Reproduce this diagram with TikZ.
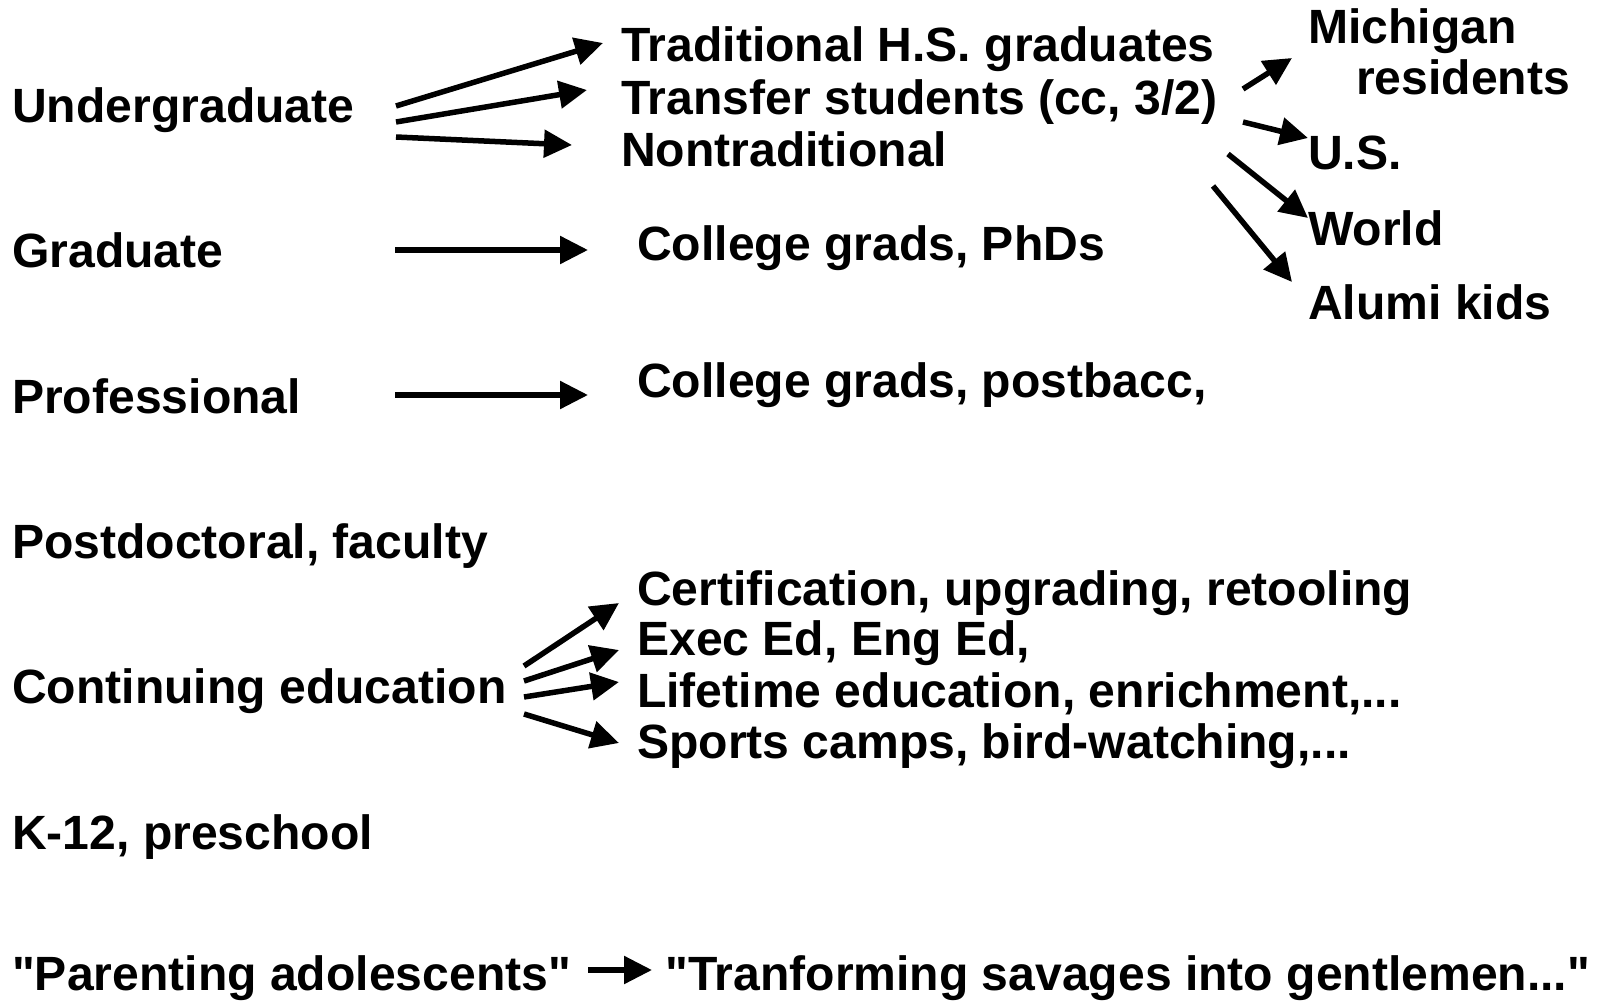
\documentclass[tikz,border=0pt]{standalone}
\usepackage{fontspec}
\setmainfont{Liberation Sans}
\usetikzlibrary{arrows.meta}
\tikzset{
  lbl/.style={anchor=base west, inner sep=0pt, font=\bfseries\fontsize{48.1}{57}\selectfont},
  arr/.style={line width=5.5pt, -{Triangle[length=28pt, width=27pt]}},
}
\begin{document}
\begin{tikzpicture}[x=1pt, y=-1pt]
  \useasboundingbox[fill=white] (0,0) rectangle (1598,1001);
  % left column
  \foreach \n/\y/\t in {ug/122/Undergraduate, grad/267/Graduate, prof/413/Professional,
      postdoc/558/{Postdoctoral, faculty}, cont/703/Continuing education,
      kid/849/{K-12, preschool}, parent/990/{\textquotedbl Parenting adolescents\textquotedbl}} {
    \node[lbl] (\n) at (12,\y) {\t};
  }
  % middle column
  \foreach \n/\x/\y/\t in {trad/621/61/Traditional H.S. graduates,
      transfer/621/114/{Transfer students (cc, 3/2)}, nontrad/621/166/Nontraditional,
      phd/637/260/{College grads, PhDs}, postbacc/637/397/{College grads, postbacc,},
      cert/637/605/{Certification, upgrading, retooling}, exec/637/655/{Exec Ed, Eng Ed,},
      life/637/707/{Lifetime education, enrichment,...}, sport/637/758/{Sports camps, bird-watching,...},
      savage/665/990/{\textquotedbl Tranforming savages into gentlemen...\textquotedbl}} {
    \node[lbl] (\n) at (\x,\y) {\t};
  }
  % right column
  \foreach \n/\x/\y/\t in {mich/1308/43/Michigan, res/1356/94/residents, us/1308/169/U.S.,
      world/1308/245/World, alumni/1308/319/Alumi kids} {
    \node[lbl] (\n) at (\x,\y) {\t};
  }
  % arrow ends
  \foreach \n/\x/\y in {ugA/396/106, ugB/396/122, ugC/396/137, tradE/603/43, transE/587/90, nonE/572/145,
      gradS/395/250, gradE/588/250, profS/395/395, profE/588/395,
      contA/524/666, contB/524/681, contC/524/697, contD/524/714,
      certE/619/603, execE/619/650, lifeE/619/682, sportE/619/743,
      trA/1243/89, trB/1243/122, trC/1228/154, trD/1213/186,
      michE/1292/58, usE/1308/138, worldE/1308/218, alumE/1292/282,
      parS/588/970, parE/652/970} {
    \coordinate (\n) at (\x,\y);
  }
  % arrows
  \foreach \a/\b in {ugA/tradE, ugB/transE, ugC/nonE, gradS/gradE, profS/profE,
      contA/certE, contB/execE, contC/lifeE, contD/sportE,
      trA/michE, trB/usE, trC/worldE, trD/alumE, parS/parE} {
    \draw[arr] (\a) -- (\b);
  }
\end{tikzpicture}
\end{document}
